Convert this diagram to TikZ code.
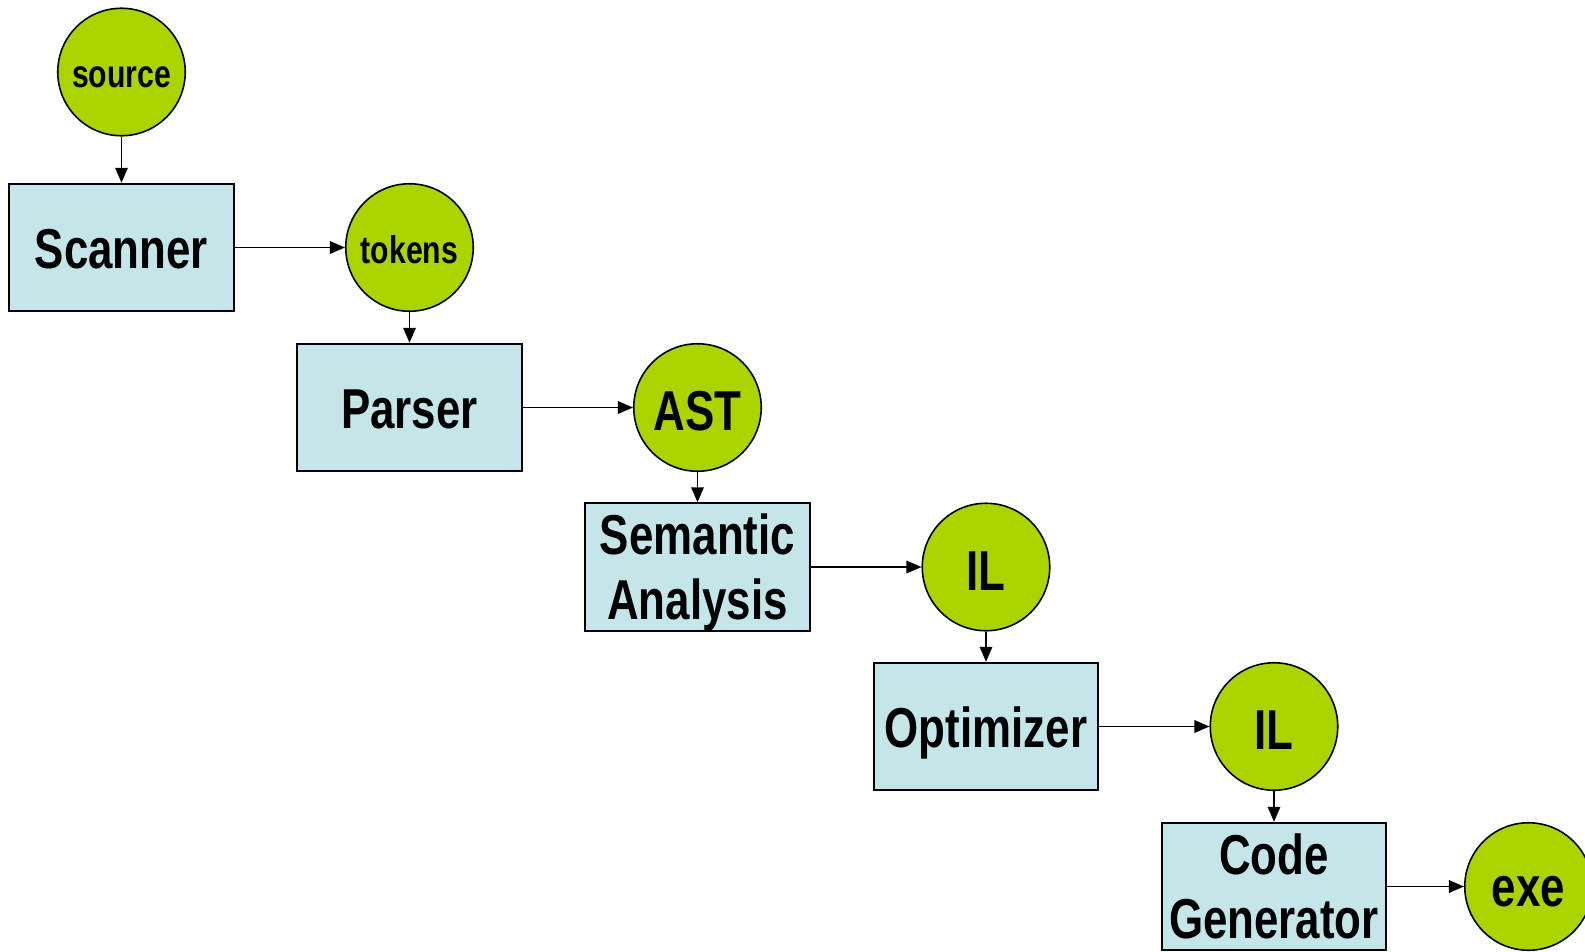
\documentclass[tikz,border=0pt]{standalone}
\usepackage{fontspec}
\setmainfont{Liberation Sans}[FakeStretch=0.78]
\usepackage{tikz}
\usetikzlibrary{arrows.meta}

\definecolor{boxblue}{RGB}{197,230,232}
\definecolor{dotgreen}{RGB}{170,211,0}

\begin{document}
\begin{tikzpicture}[
    stagebox/.style={draw, line width=1.1pt, fill=boxblue, minimum width=4.49cm, minimum height=2.55cm,
        inner sep=0pt, align=center, text height=0.85cm, text depth=0pt,
        font=\fontsize{32}{36.5}\selectfont\bfseries},
    twoline/.style={text height=2.08cm, text depth=0pt},
    datadot/.style={draw, line width=0.9pt, circle, fill=dotgreen, minimum size=2.55cm, inner sep=0pt,
        text height=0.92cm, text depth=0pt, font=\fontsize{32}{35}\selectfont\bfseries},
    smalldot/.style={datadot, text height=0.62cm, font=\fontsize{22}{24}\selectfont\bfseries},
    flow/.style={line width=1pt, -{Triangle[length=0.3cm,width=0.25cm]}}
]
        \useasboundingbox (0,0) rectangle (31.7,-19.02);

        % Boxes
        \node[stagebox] (scanner) at (2.43,-4.95) {Scanner};
        \node[stagebox] (parser) at (8.19,-8.15) {Parser};
        \node[stagebox, twoline] (sem) at (13.95,-11.34) {Semantic\\Analysis};
        \node[stagebox] (opt) at (19.72,-14.53) {Optimizer};
        \node[stagebox, twoline] (codegen) at (25.48,-17.73) {Code\\Generator};

        % Circles
        \node[smalldot] (src) at (2.43,-1.44) {source};
        \node[smalldot] (tokens) at (8.19,-4.95) {tokens};
        \node[datadot] (ast) at (13.95,-8.15) {AST};
        \node[datadot] (ilA) at (19.72,-11.34) {IL};
        \node[datadot] (ilB) at (25.48,-14.53) {IL};
        \node[datadot, text height=0.8cm] (exe) at (30.57,-17.73) {exe};

        % Arrows
        \draw[flow] (src) -- (scanner);
        \draw[flow] (scanner) -- (tokens);
        \draw[flow] (tokens) -- (parser);
        \draw[flow] (parser) -- (ast);
        \draw[flow] (ast) -- (sem);
        \draw[flow] (sem) -- (ilA);
        \draw[flow] (ilA) -- (opt);
        \draw[flow] (opt) -- (ilB);
        \draw[flow] (ilB) -- (codegen);
        \draw[flow] (codegen) -- (exe);

\end{tikzpicture}
\end{document}
